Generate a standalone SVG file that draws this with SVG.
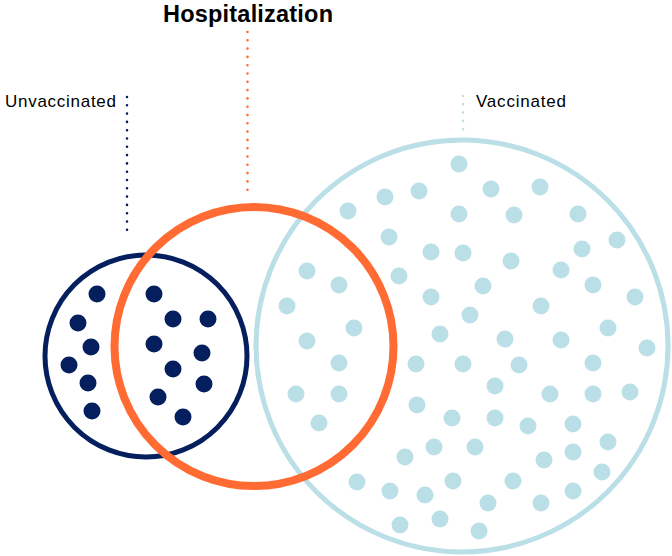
<svg xmlns="http://www.w3.org/2000/svg" width="672" height="556" viewBox="0 0 672 556">
<style>
.lbl{font-family:"Liberation Sans",Arial,sans-serif;fill:#000;}
.nd{fill:#041E5E;}
.vd{fill:#BBDFE6;}
.lead{fill:none;stroke-width:2.6;stroke-linecap:round;stroke-dasharray:0 8.3;}
</style>
<rect width="672" height="556" fill="#fff"/>
<g id="connectors">
<line class="lead" x1="127" y1="97" x2="127" y2="238" stroke="#041E5E"/>
<line class="lead" x1="247.5" y1="32" x2="247.5" y2="190" stroke="#FF6B33"/>
<line class="lead" x1="463" y1="96" x2="463" y2="130" stroke="#BBDFE6"/>
</g>
<g id="unvaccinated">
<circle cx="146" cy="356" r="101" fill="none" stroke="#041E5E" stroke-width="5"/>
<g class="nd">
<circle cx="97" cy="294" r="8.5"/><circle cx="154" cy="294" r="8.5"/>
<circle cx="78" cy="323" r="8.5"/><circle cx="173" cy="319" r="8.5"/><circle cx="208" cy="319" r="8.5"/>
<circle cx="91" cy="347" r="8.5"/><circle cx="154" cy="344" r="8.5"/><circle cx="202" cy="353" r="8.5"/>
<circle cx="69" cy="365" r="8.5"/><circle cx="173" cy="369" r="8.5"/>
<circle cx="88" cy="383" r="8.5"/><circle cx="204" cy="384" r="8.5"/><circle cx="158" cy="397" r="8.5"/>
<circle cx="92" cy="411" r="8.5"/><circle cx="183" cy="417" r="8.5"/>
</g>
<text class="lbl" x="5" y="107" font-size="17" textLength="111" lengthAdjust="spacing">Unvaccinated</text>
</g>
<g id="vaccinated">
<circle cx="462" cy="346" r="206" fill="none" stroke="#BBDFE6" stroke-width="5"/>
<g class="vd">
<circle cx="459" cy="164" r="8.5"/><circle cx="385" cy="197" r="8.5"/><circle cx="419" cy="191" r="8.5"/><circle cx="491" cy="189" r="8.5"/><circle cx="540" cy="187" r="8.5"/>
<circle cx="348" cy="211" r="8.5"/><circle cx="459" cy="214" r="8.5"/><circle cx="514" cy="215" r="8.5"/><circle cx="578" cy="214" r="8.5"/>
<circle cx="389" cy="237" r="8.5"/><circle cx="431" cy="252" r="8.5"/><circle cx="463" cy="253" r="8.5"/><circle cx="511" cy="261" r="8.5"/><circle cx="582" cy="249" r="8.5"/><circle cx="617" cy="240" r="8.5"/>
<circle cx="307" cy="271" r="8.5"/><circle cx="399" cy="276" r="8.5"/><circle cx="339" cy="285" r="8.5"/><circle cx="483" cy="286" r="8.5"/><circle cx="561" cy="270" r="8.5"/><circle cx="593" cy="285" r="8.5"/>
<circle cx="287" cy="306" r="8.5"/><circle cx="431" cy="297" r="8.5"/><circle cx="470" cy="315" r="8.5"/><circle cx="541" cy="306" r="8.5"/><circle cx="635" cy="297" r="8.5"/>
<circle cx="354" cy="328" r="8.5"/><circle cx="440" cy="334" r="8.5"/><circle cx="505" cy="339" r="8.5"/><circle cx="561" cy="340" r="8.5"/><circle cx="608" cy="328" r="8.5"/>
<circle cx="307" cy="341" r="8.5"/><circle cx="647" cy="348" r="8.5"/>
<circle cx="339" cy="363" r="8.5"/><circle cx="416" cy="364" r="8.5"/><circle cx="463" cy="364" r="8.5"/><circle cx="519" cy="365" r="8.5"/><circle cx="593" cy="363" r="8.5"/>
<circle cx="495" cy="386" r="8.5"/>
<circle cx="296" cy="394" r="8.5"/><circle cx="339" cy="394" r="8.5"/><circle cx="417" cy="405" r="8.5"/><circle cx="550" cy="394" r="8.5"/><circle cx="593" cy="394" r="8.5"/><circle cx="630" cy="392" r="8.5"/>
<circle cx="319" cy="423" r="8.5"/><circle cx="452" cy="418" r="8.5"/><circle cx="495" cy="418" r="8.5"/><circle cx="528" cy="426" r="8.5"/><circle cx="573" cy="424" r="8.5"/>
<circle cx="434" cy="447" r="8.5"/><circle cx="475" cy="447" r="8.5"/><circle cx="405" cy="457" r="8.5"/><circle cx="544" cy="460" r="8.5"/><circle cx="573" cy="452" r="8.5"/><circle cx="608" cy="442" r="8.5"/>
<circle cx="602" cy="472" r="8.5"/>
<circle cx="357" cy="482" r="8.5"/><circle cx="390" cy="491" r="8.5"/><circle cx="425" cy="495" r="8.5"/><circle cx="453" cy="481" r="8.5"/><circle cx="513" cy="481" r="8.5"/><circle cx="573" cy="491" r="8.5"/>
<circle cx="488" cy="503" r="8.5"/><circle cx="541" cy="503" r="8.5"/>
<circle cx="400" cy="525" r="8.5"/><circle cx="440" cy="519" r="8.5"/><circle cx="479" cy="531" r="8.5"/>
</g>
<text class="lbl" x="476" y="107" font-size="17" textLength="90" lengthAdjust="spacing">Vaccinated</text>
</g>
<g id="hospitalization">
<circle cx="254" cy="346.5" r="139.5" fill="none" stroke="#FF6B33" stroke-width="8"/>
<text class="lbl" x="248" y="22" font-size="23.5" font-weight="bold" text-anchor="middle" textLength="170" lengthAdjust="spacing">Hospitalization</text>
</g>
</svg>
